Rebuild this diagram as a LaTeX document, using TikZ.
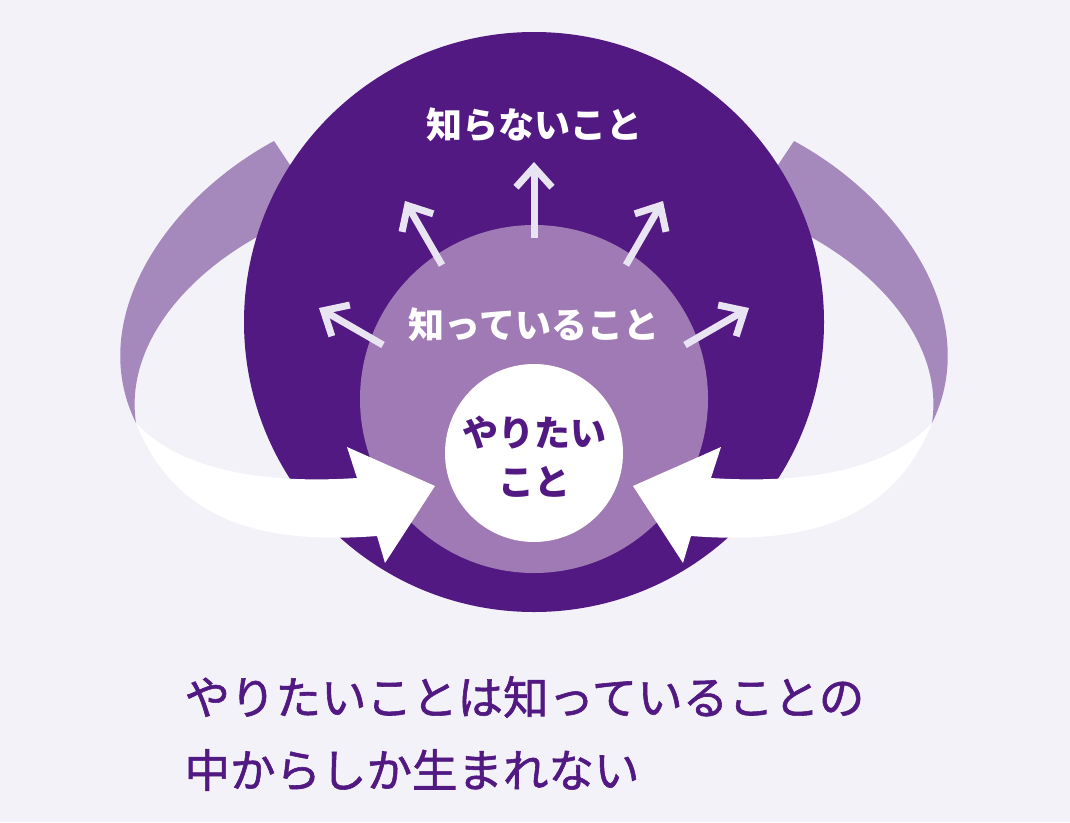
\documentclass[tikz,border=0pt]{standalone}
\usepackage{fontspec}
\newfontfamily\jp{Noto Sans CJK JP}
\newfontfamily\jpm{Noto Sans CJK JP}[FakeBold=1.3]
\usetikzlibrary{arrows.meta}
\definecolor{bgc}{RGB}{243,242,249}
\definecolor{deep}{RGB}{82,25,130}
\definecolor{mid}{RGB}{160,122,180}
\definecolor{band}{RGB}{165,136,188}
\definecolor{pale}{RGB}{232,228,242}
\begin{document}
\begin{tikzpicture}[x=1pt, y=-1pt,
  ray/.style={pale, line width=7pt, -{Straight Barb[length=20pt, width=36pt, sharp]}},
  lbl/.style={font=\jp\bfseries\fontsize{36}{49}\selectfont, white}]
\fill[bgc] (0,0) rectangle (1070,822);
% back of the loops
\fill[band] (298,177) -- (274,141) .. controls (165,200) and (85,320) .. (136,423)
  .. controls (125,350) and (180,280) .. (257,237) -- cycle;
\fill[band] (770,177) -- (794,141) .. controls (903,200) and (983,320) .. (932,423)
  .. controls (943,350) and (888,280) .. (811,237) -- cycle;
% circles
\fill[deep] (534,322) circle[radius=290];
\fill[mid] (534,399) circle[radius=174];
\fill[white] (534,453) circle[radius=89];
% front of the loops
\fill[white] (136,423) .. controls (175,520) and (260,545) .. (377,536)
  -- (385,563) -- (435,486) -- (347,447) -- (357,478)
  .. controls (250,485) and (175,465) .. (136,423) -- cycle;
\fill[white] (932,423) .. controls (893,520) and (808,545) .. (691,536)
  -- (683,563) -- (633,486) -- (721,447) -- (711,478)
  .. controls (818,485) and (893,465) .. (932,423) -- cycle;
% rays
\coordinate (s1) at (534,238); \coordinate (t1) at (534,162);
\coordinate (s2) at (442,265); \coordinate (t2) at (405,201);
\coordinate (s3) at (383,345); \coordinate (t3) at (319,308);
\coordinate (s4) at (626,265); \coordinate (t4) at (663,201);
\coordinate (s5) at (685,345); \coordinate (t5) at (749,308);
\draw[ray] (s1) -- (t1);
\draw[ray] (s2) -- (t2);
\draw[ray] (s3) -- (t3);
\draw[ray] (s4) -- (t4);
\draw[ray] (s5) -- (t5);
% labels
\node[lbl] (unknown) at (534,125) {知らないこと};
\node[lbl] (known) at (534,325) {知っていること};
\node[lbl, deep, align=center] (want) at (534,457) {やりたい\\こと};
\node[font=\jpm\fontsize{45.5}{74}\selectfont, deep, anchor=west] (msg1) at (181,697) {やりたいことは知っていることの};
\node[font=\jpm\fontsize{45.5}{74}\selectfont, deep, anchor=west] (msg2) at (181,770) {中からしか生まれない};
\end{tikzpicture}
\end{document}
